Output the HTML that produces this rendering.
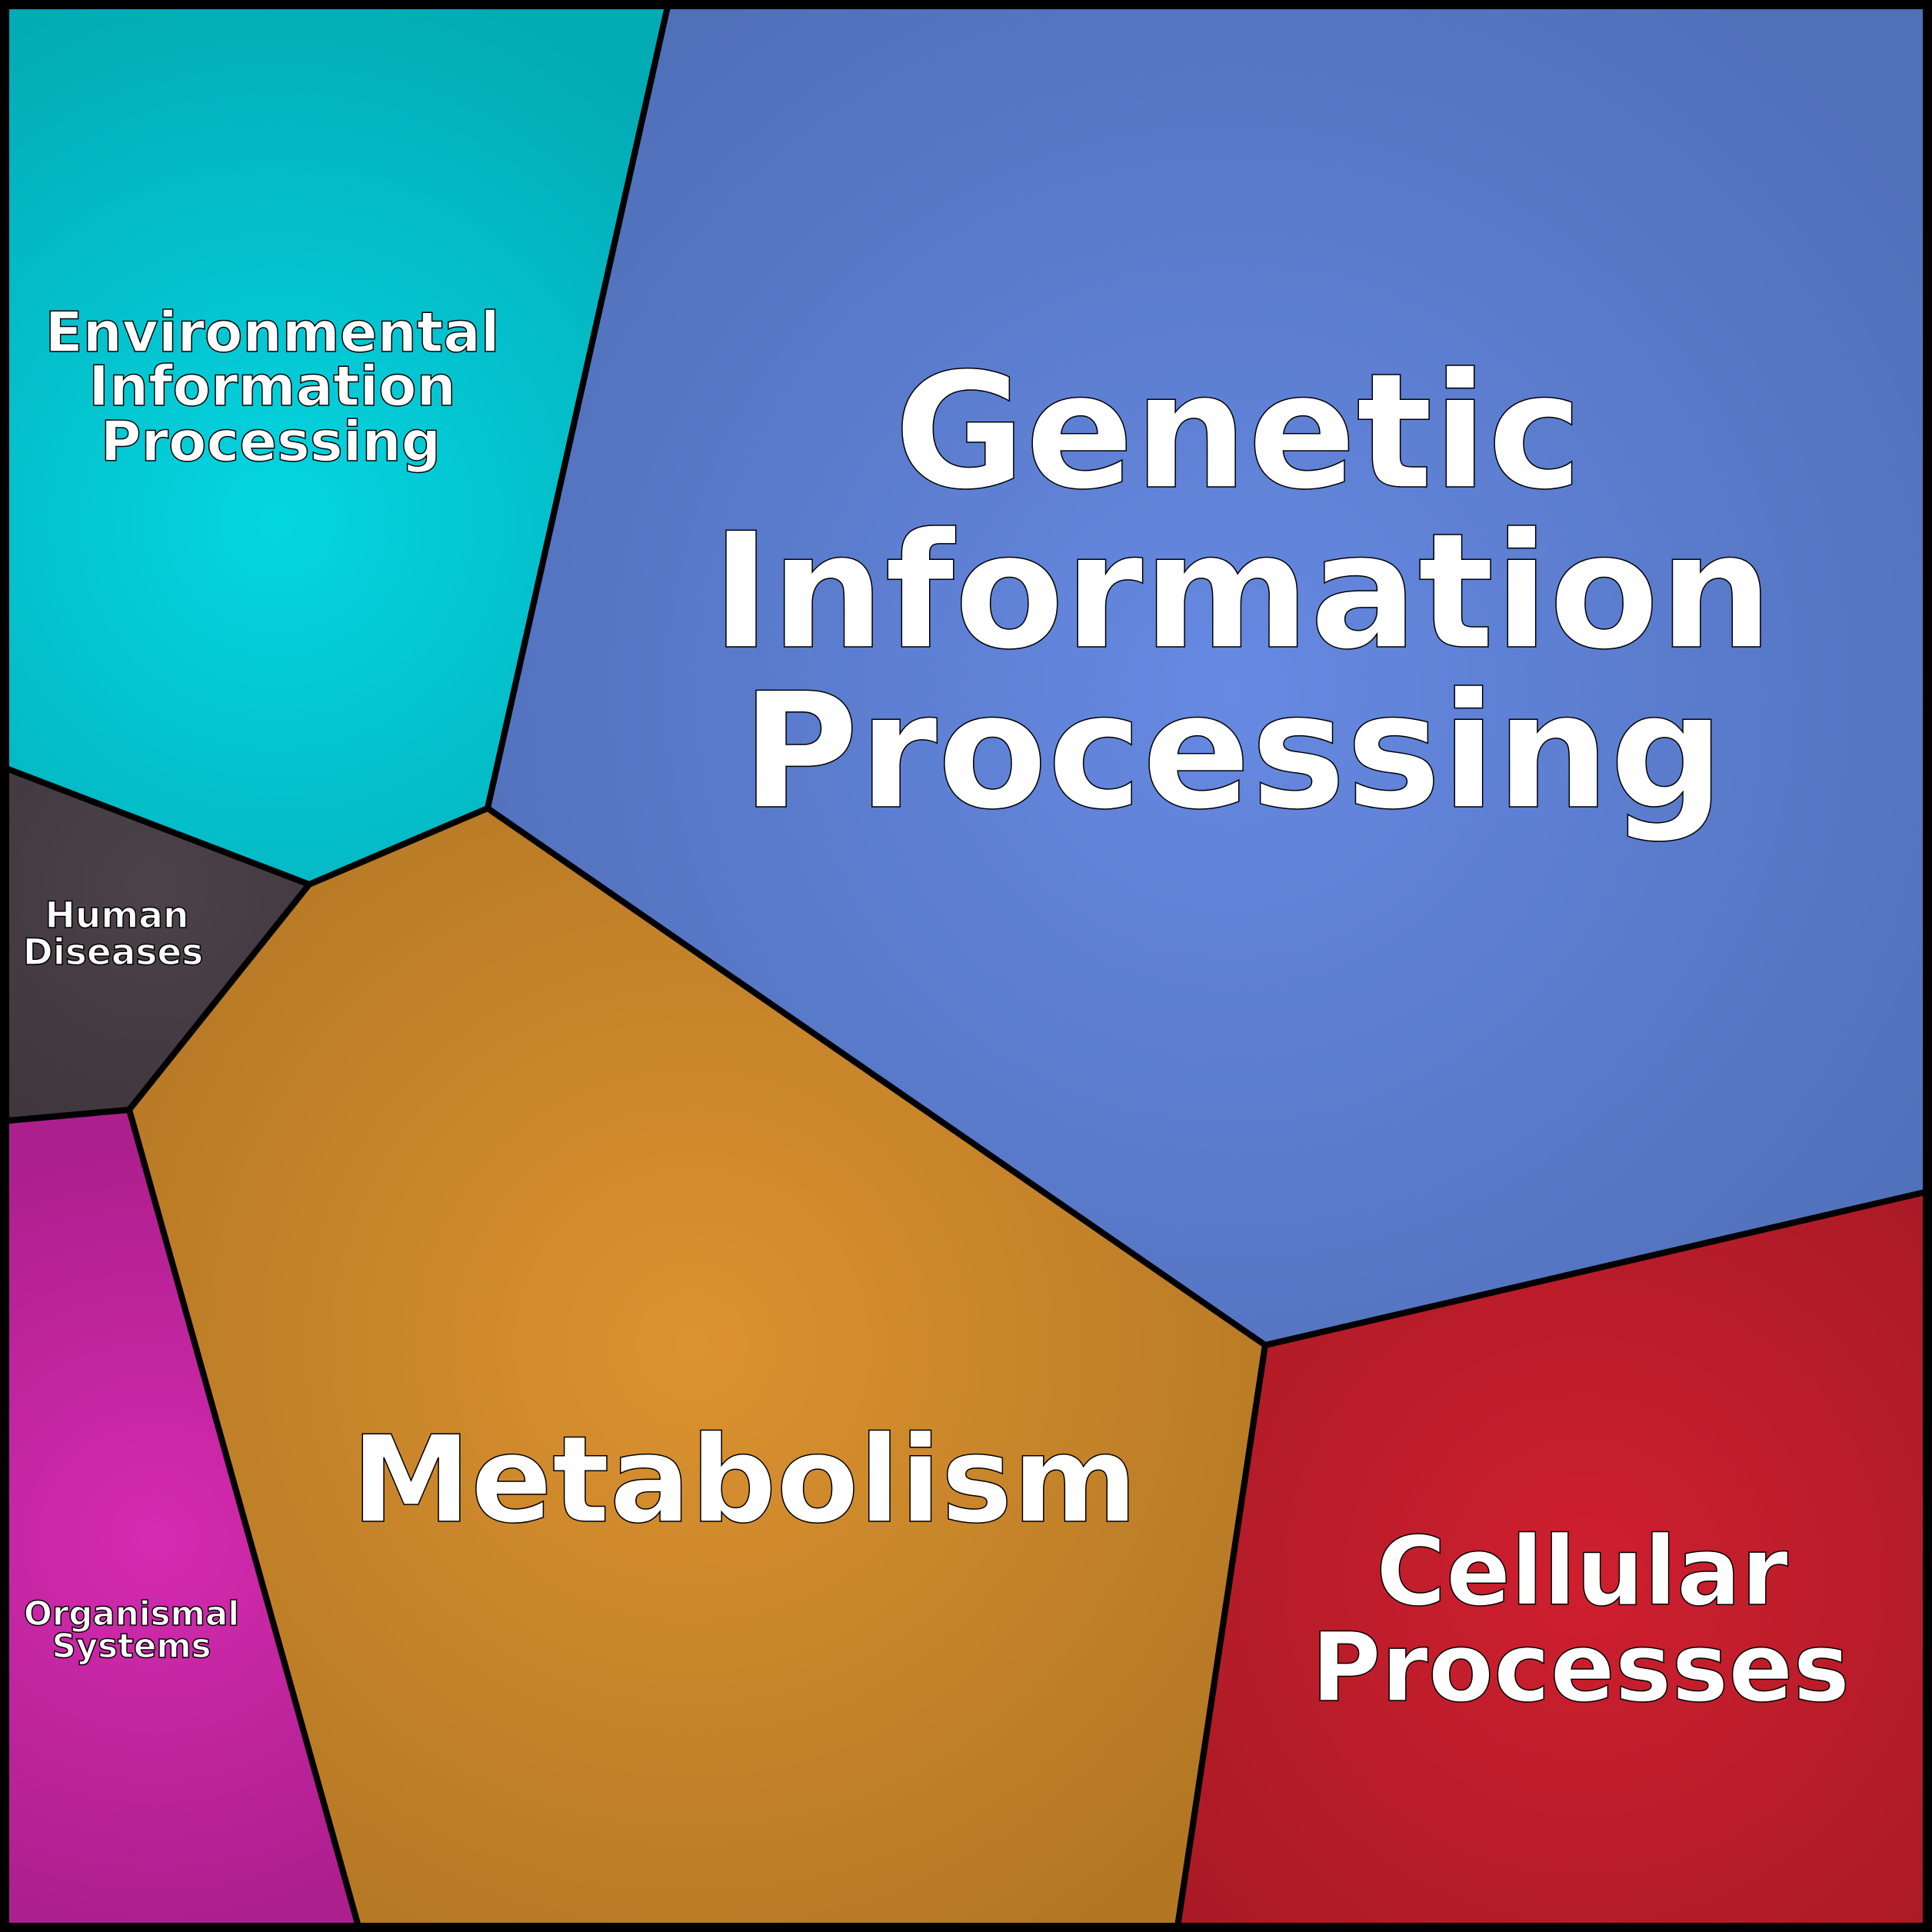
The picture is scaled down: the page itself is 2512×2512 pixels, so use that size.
<!DOCTYPE html>
<html><head><meta charset="utf-8"><style>
html,body{margin:0;padding:0;background:#fff}
svg{display:block}
text{font-family:"DejaVu Sans","Liberation Sans",sans-serif;font-weight:bold;fill:#fff;stroke:#000;stroke-width:1.5;text-anchor:middle}
</style></head><body>
<svg width="2512" height="2512" viewBox="0 0 2512 2512" xmlns="http://www.w3.org/2000/svg">
<defs>
<radialGradient id="ge" gradientUnits="userSpaceOnUse" cx="360" cy="680" r="720"><stop offset="0" stop-color="#04d6e2"/><stop offset="1" stop-color="#03abb5"/></radialGradient>
<radialGradient id="gg" gradientUnits="userSpaceOnUse" cx="1600" cy="900" r="1100"><stop offset="0" stop-color="#6689e2"/><stop offset="1" stop-color="#5170ba"/></radialGradient>
<radialGradient id="gh" gradientUnits="userSpaceOnUse" cx="200" cy="1150" r="400"><stop offset="0" stop-color="#4b424a"/><stop offset="1" stop-color="#3e353b"/></radialGradient>
<radialGradient id="gm" gradientUnits="userSpaceOnUse" cx="900" cy="1750" r="900"><stop offset="0" stop-color="#dc9230"/><stop offset="1" stop-color="#b37724"/></radialGradient>
<radialGradient id="go" gradientUnits="userSpaceOnUse" cx="200" cy="2000" r="500"><stop offset="0" stop-color="#d52bb0"/><stop offset="1" stop-color="#ae1f8e"/></radialGradient>
<radialGradient id="gc" gradientUnits="userSpaceOnUse" cx="2060" cy="2050" r="700"><stop offset="0" stop-color="#cf1f2f"/><stop offset="1" stop-color="#a71a25"/></radialGradient>
</defs>
<g stroke="#000" stroke-width="8" stroke-linejoin="round">
<polygon points="0,0 870,0 634,1051 402,1150 0,996" fill="url(#ge)"/>
<polygon points="870,0 2512,0 2512,1548 1645,1749 634,1051" fill="url(#gg)"/>
<polygon points="0,996 402,1150 168,1443 0,1458" fill="url(#gh)"/>
<polygon points="634,1051 1645,1749 1530,2512 468,2512 168,1443 402,1150" fill="url(#gm)"/>
<polygon points="0,1458 168,1443 468,2512 0,2512" fill="url(#go)"/>
<polygon points="1645,1749 2512,1548 2512,2512 1530,2512" fill="url(#gc)"/>
</g>
<rect x="6" y="6" width="2500" height="2500" fill="none" stroke="#000" stroke-width="12"/>
<text font-size="208" x="1610" y="633">Genetic</text>
<text font-size="208" x="1615" y="841">Information</text>
<text font-size="208" x="1603" y="1049">Processing</text>
<text font-size="72" x="354" y="457">Environmental</text>
<text font-size="72" x="354" y="527">Information</text>
<text font-size="72" x="352" y="599">Processing</text>
<text font-size="47" x="152" y="1206" stroke-width="1">Human</text>
<text font-size="47" x="147" y="1254" stroke-width="1">Diseases</text>
<text font-size="43.5" x="171" y="2113" stroke-width="1">Organismal</text>
<text font-size="43.5" x="171" y="2155" stroke-width="1">Systems</text>
<text font-size="156" x="968" y="1978">Metabolism</text>
<text font-size="124" x="2057" y="2086">Cellular</text>
<text font-size="124" x="2055" y="2211">Processes</text>
</svg>
</body></html>
